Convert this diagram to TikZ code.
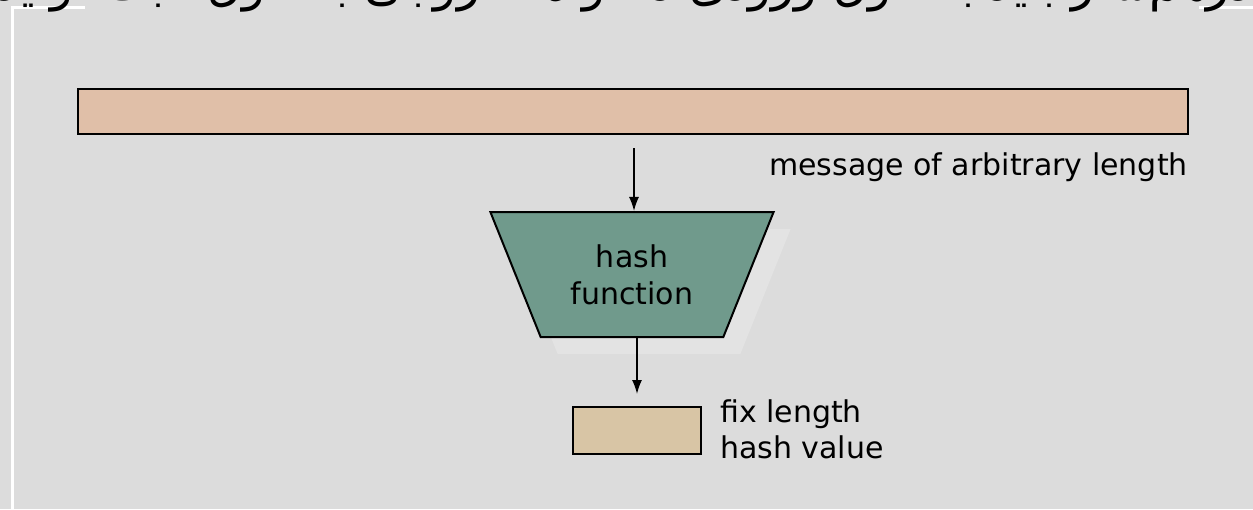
\documentclass[tikz,border=0pt]{standalone}
\usepackage{fontspec}
\setmainfont{DejaVu Sans}
\newfontfamily\arabicfont[Script=Arabic]{DejaVu Sans}
\TeXXeTstate=1
\usetikzlibrary{arrows.meta,shapes.geometric,shadows}
\definecolor{bg}{HTML}{DCDCDC}
\definecolor{barfill}{HTML}{E0BFA8}
\definecolor{hashfill}{HTML}{709A8C}
\definecolor{valfill}{HTML}{D8C5A5}
\definecolor{shadowc}{HTML}{E3E3E3}
\tikzset{
  lbl/.style={font=\fontsize{30}{36}\selectfont, inner sep=0pt, text=black},
  barbox/.style={draw=black, line width=2pt, fill=barfill, inner sep=0pt},
  hashbox/.style={trapezium, shape border rotate=180, trapezium angle=60.75,
    trapezium stretches=true, minimum width=284pt, minimum height=125pt,
    draw=black, line width=2pt, fill=hashfill, inner sep=0pt, align=center,
    font=\fontsize{30}{37}\selectfont,
    drop shadow={shadow xshift=17pt, shadow yshift=-17pt, fill=shadowc, opacity=1}},
  valbox/.style={draw=black, line width=2pt, fill=valfill, inner sep=0pt},
  arr/.style={draw=black, line width=1.5pt, -{Latex[length=14pt,width=10pt]}},
  titlefont/.style={font=\arabicfont\fontsize{48}{52}\selectfont, inner sep=0pt}
}
\begin{document}
\begin{tikzpicture}[x=1pt,y=-1pt]
\useasboundingbox (0,0) rectangle (1253,509);
\fill[bg] (0,0) rectangle (1253,509);
\begin{scope}
  \clip (0,0) rectangle (1253,509);
  \draw[white, line width=3pt] (12,509) -- (12,7) -- (1253,7);
  \fill[bg] (85,0) rectangle (1199,13);
  \node[titlefont, anchor=base] (title) at (626,0) {\beginR تابع درهم‌ساز باید با طول ورودی دلخواه، خروجی با طول ثابت تولید کند\endR};
\end{scope}

\node[barbox, minimum width=1110pt, minimum height=45pt] (msg) at (633,111.5) {};
\node[lbl, anchor=base east] (msglbl) at (1188,175) {message of arbitrary length};

\node[hashbox] (hash) at (632,274.5) {hash\\function};

\node[valbox, minimum width=128pt, minimum height=47pt] (hv) at (637,430.5) {};
\node[lbl, anchor=base west] (fl) at (720,422) {fix length};
\node[lbl, anchor=base west] (hvl) at (720,458) {hash value};

\coordinate (a1) at (634,148);
\draw[arr] (a1) -- (a1 |- hash.north);
\draw[arr] (hv.north |- hash.south) -- ([yshift=12pt]hv.north);
\end{tikzpicture}
\end{document}
